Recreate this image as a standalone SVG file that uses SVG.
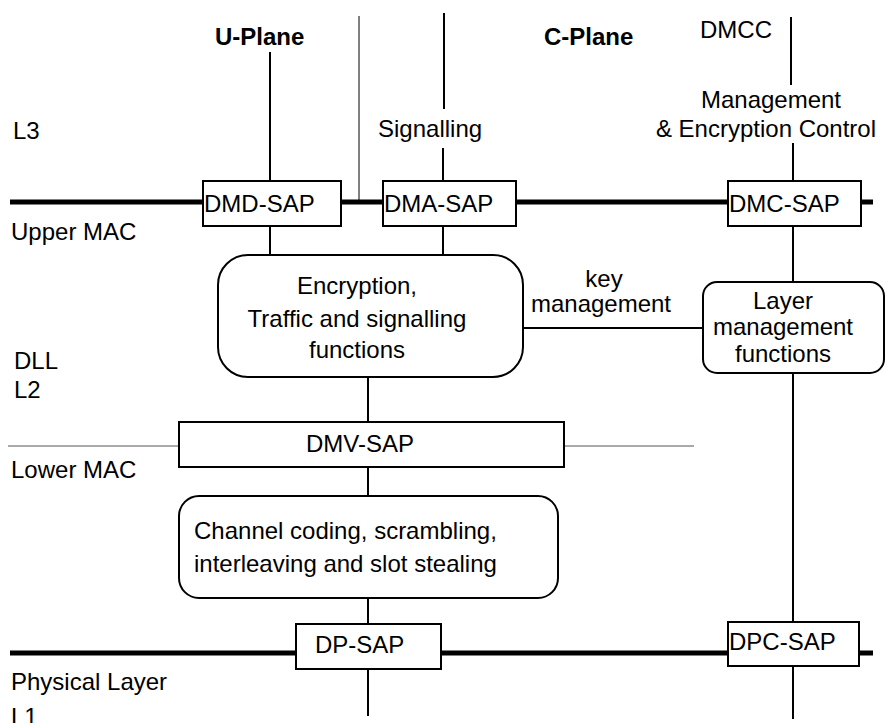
<svg xmlns="http://www.w3.org/2000/svg" width="885" height="723" viewBox="0 0 885 723">
<style>
text{font-family:"Liberation Sans",Arial,sans-serif;font-size:24px;fill:#000}
.b{font-weight:bold}
.m{text-anchor:middle}
.box{fill:#fff;stroke:#000;stroke-width:2}
.ln{stroke:#000;stroke-width:2;fill:none}
.thick{stroke:#000;stroke-width:5;fill:none}
.thin{stroke:#000;stroke-width:1;fill:none}
.gray{stroke:#555;stroke-width:1;fill:none}
</style>
<rect width="885" height="723" fill="#fff"/>
<g id="connectors">
<line class="thick" x1="10" y1="202" x2="203" y2="202"/>
<line class="thick" x1="341" y1="202" x2="383" y2="202"/>
<line class="thick" x1="516" y1="202" x2="728" y2="202"/>
<line class="thick" x1="861" y1="202" x2="873" y2="202"/>
<line class="thick" x1="10" y1="653" x2="296" y2="653"/>
<line class="thick" x1="441" y1="653" x2="728" y2="653"/>
<line class="thick" x1="859" y1="653" x2="873" y2="653"/>
<line class="thin" x1="359" y1="16" x2="359" y2="200"/>
<line class="ln" x1="270" y1="52" x2="270" y2="181"/>
<line class="ln" x1="270" y1="226" x2="270" y2="255"/>
<line class="ln" x1="444" y1="13" x2="444" y2="109"/>
<line class="ln" x1="443" y1="148" x2="443" y2="181"/>
<line class="ln" x1="443" y1="226" x2="443" y2="255"/>
<line class="ln" x1="791" y1="17" x2="791" y2="85"/>
<line class="ln" x1="793" y1="143" x2="793" y2="181"/>
<line class="ln" x1="793" y1="226" x2="793" y2="282"/>
<line class="ln" x1="793" y1="373" x2="793" y2="622"/>
<line class="ln" x1="793" y1="666" x2="793" y2="719"/>
<line class="ln" x1="523" y1="328" x2="703" y2="328"/>
<line class="ln" x1="368" y1="377" x2="368" y2="422"/>
<line class="ln" x1="368" y1="467" x2="368" y2="496"/>
<line class="ln" x1="368" y1="598" x2="368" y2="624"/>
<line class="ln" x1="368" y1="669" x2="368" y2="716"/>
<line class="gray" x1="8" y1="446" x2="179" y2="446"/>
<line class="gray" x1="564" y1="446" x2="694" y2="446"/>
</g>
<g id="labels">
<text class="b" x="215" y="45">U-Plane</text>
<text class="b" x="544" y="45">C-Plane</text>
<text x="700" y="38">DMCC</text>
<text x="378" y="137">Signalling</text>
<text class="m" x="771" y="108">Management</text>
<text class="m" x="766" y="137">&amp; Encryption Control</text>
<text x="13" y="139">L3</text>
<text x="11" y="240">Upper MAC</text>
<text x="14" y="369">DLL</text>
<text x="14" y="398">L2</text>
<text x="11" y="478">Lower MAC</text>
<text x="11" y="690">Physical Layer</text>
<text x="11" y="725">L1</text>
<text class="m" x="604" y="287">key</text>
<text class="m" x="601" y="312">management</text>
</g>
<g id="dmd-sap"><rect class="box" x="203" y="181" width="138" height="45"/><text x="204" y="212">DMD-SAP</text></g>
<g id="dma-sap"><rect class="box" x="383" y="181" width="133" height="45"/><text x="384" y="212">DMA-SAP</text></g>
<g id="dmc-sap"><rect class="box" x="728" y="181" width="133" height="45"/><text x="729" y="212">DMC-SAP</text></g>
<g id="encryption"><rect class="box" x="218" y="255" width="305" height="122" rx="30" ry="30"/>
<text class="m" x="357" y="294">Encryption,</text>
<text class="m" x="357" y="327">Traffic and signalling</text>
<text class="m" x="357" y="358">functions</text></g>
<g id="layer-mgmt"><rect class="box" x="703" y="282" width="181" height="91" rx="14" ry="14"/>
<text class="m" x="783" y="309">Layer</text>
<text class="m" x="783" y="335">management</text>
<text class="m" x="783" y="362">functions</text></g>
<g id="dmv-sap"><rect class="box" x="179" y="422" width="385" height="45"/><text class="m" x="360" y="452">DMV-SAP</text></g>
<g id="channel"><rect class="box" x="179" y="496" width="379" height="102" rx="20" ry="20"/>
<text x="194" y="539">Channel coding, scrambling,</text>
<text x="194" y="572">interleaving and slot stealing</text></g>
<g id="dp-sap"><rect class="box" x="296" y="624" width="145" height="45"/><text x="315" y="653">DP-SAP</text></g>
<g id="dpc-sap"><rect class="box" x="728" y="622" width="131" height="44"/><text x="729" y="650">DPC-SAP</text></g>
</svg>
